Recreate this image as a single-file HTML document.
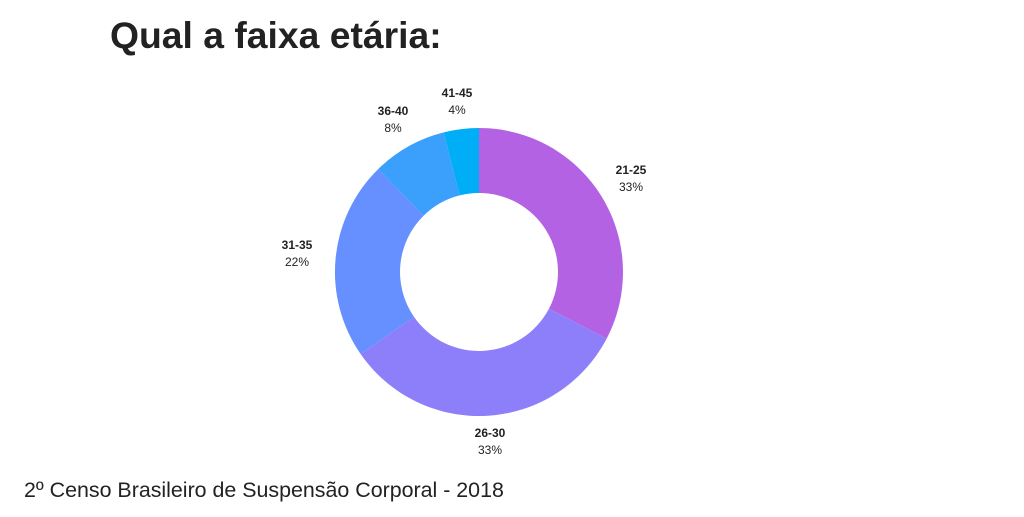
<!DOCTYPE html>
<html><head><meta charset="utf-8"><style>
body{margin:0;width:1024px;height:512px;background:#fff;overflow:hidden;font-family:"Liberation Sans",sans-serif;}
</style></head><body>
<svg width="1024" height="512" xmlns="http://www.w3.org/2000/svg" font-family="Liberation Sans, sans-serif">
<text x="110" y="48" font-size="37.3" font-weight="bold" fill="#222">Qual a faixa etária:</text>
<g stroke="none">
<path d="M479,128 A144,144 0 0 1 606.6,338.7 L549.0,308.6 A79,79 0 0 0 479,193 Z" fill="#b462e4"/>
<path d="M606.6,338.7 A144,144 0 0 1 360.6,354.0 L414.1,317.0 A79,79 0 0 0 549.0,308.6 Z" fill="#8d7ffa"/>
<path d="M360.6,354.0 A144,144 0 0 1 378.2,169.1 L423.7,215.6 A79,79 0 0 0 414.1,317.0 Z" fill="#6690ff"/>
<path d="M378.2,169.1 A144,144 0 0 1 443.7,132.4 L459.6,195.4 A79,79 0 0 0 423.7,215.6 Z" fill="#3aa0fc"/>
<path d="M443.7,132.4 A144,144 0 0 1 479,128 L479,193 A79,79 0 0 0 459.6,195.4 Z" fill="#00aef8"/>
</g>
<g font-size="12" fill="#222" text-anchor="middle">
<text x="631" y="174" font-weight="bold">21-25</text><text x="631" y="191">33%</text>
<text x="490" y="437" font-weight="bold">26-30</text><text x="490" y="454">33%</text>
<text x="297" y="249" font-weight="bold">31-35</text><text x="297" y="266">22%</text>
<text x="393" y="115" font-weight="bold">36-40</text><text x="393" y="132">8%</text>
<text x="457" y="97" font-weight="bold">41-45</text><text x="457" y="114">4%</text>
</g>
<text x="24" y="497" font-size="21.4" fill="#222">2º Censo Brasileiro de Suspensão Corporal - 2018</text>
</svg>
</body></html>
